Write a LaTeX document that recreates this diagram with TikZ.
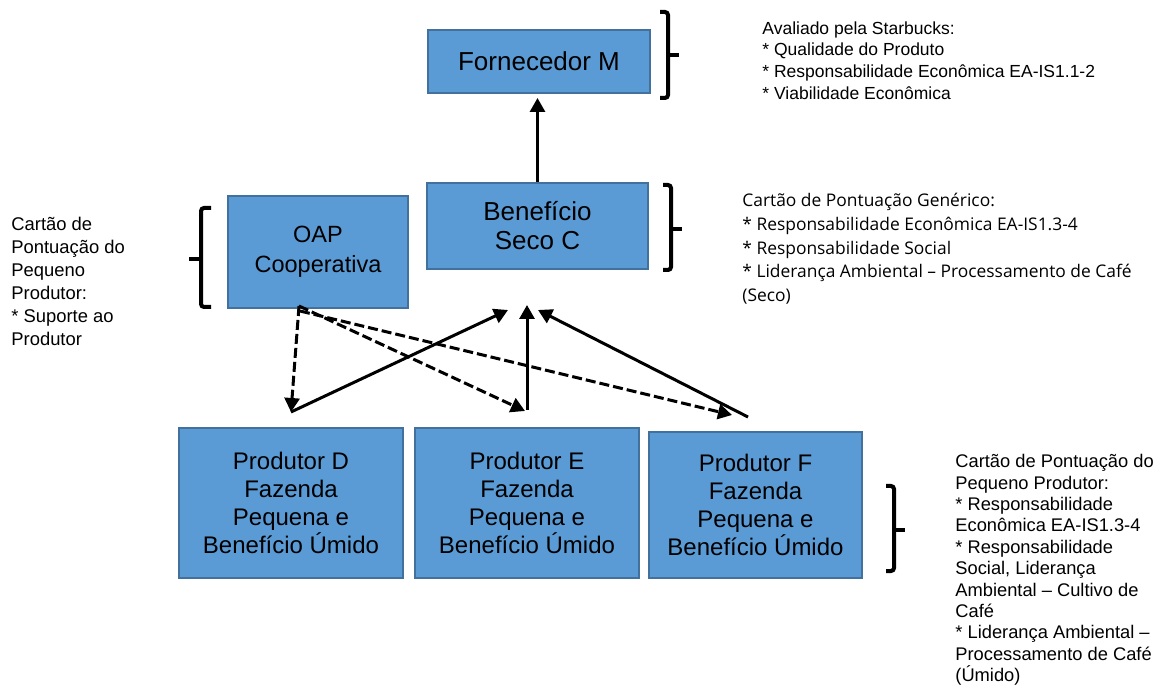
\documentclass[tikz,border=0pt]{standalone}
\usepackage{fontspec}
\setmainfont{Liberation Sans}
\newfontfamily\segoe{Open Sans}
\usetikzlibrary{arrows.meta}

\definecolor{boxfill}{RGB}{91,155,213}
\definecolor{boxline}{RGB}{65,113,156}

\begin{document}
\begin{tikzpicture}[x=0.5pt,y=-0.5pt,
    box/.style={rectangle, draw=boxline, fill=boxfill, line width=1pt, align=center, inner sep=0pt},
    note/.style={anchor=north west, align=left, inner sep=0pt},
    brace/.style={line width=2pt, rounded corners=1.5pt},
    flow/.style={line width=1.5pt, -{Triangle[length=7pt,width=7.5pt]}},
    help/.style={flow, dash pattern=on 5pt off 2pt}]
    \useasboundingbox (0,0) rectangle (1160,688);

    % boxes
    \node[box, minimum width=111pt, minimum height=31.5pt, font=\fontsize{13}{14.5}\selectfont]  (forn) at (539,61.5) {Fornecedor M};
    \node[box, minimum width=110.5pt, minimum height=43pt, font=\fontsize{13}{14.5}\selectfont] (seco) at (537.5,226) {Benefício\\Seco C};
    \node[box, minimum width=90pt, minimum height=56pt, font=\fontsize{11.75}{15}\selectfont]   (oap)  at (318,252) {OAP\\Cooperativa};
    \node[box, minimum width=112pt, minimum height=75pt, font=\fontsize{12}{13.9}\selectfont]  (prodD) at (291,503) {Produtor D\\Fazenda\\Pequena e\\Benefício Úmido};
    \node[box, minimum width=112pt, minimum height=75pt, font=\fontsize{12}{13.9}\selectfont]  (prodE) at (527,503) {Produtor E\\Fazenda\\Pequena e\\Benefício Úmido};
    \node[box, minimum width=106.5pt, minimum height=73pt, font=\fontsize{12}{13.9}\selectfont] (prodF) at (755.5,505) {Produtor F\\Fazenda\\Pequena e\\Benefício Úmido};

    % notes
    \node[note, font=\fontsize{8.75}{10.9}\selectfont] (starbucks) at (762,21)
        {Avaliado pela Starbucks:\\* Qualidade do Produto\\* Responsabilidade Econômica EA-IS1.1-2\\* Viabilidade Econômica};
    \node[note, font=\segoe\fontsize{8.7}{11.85}\selectfont] (generico) at (742,193)
        {Cartão de Pontuação Genérico:\\* Responsabilidade Econômica EA-IS1.3-4\\* Responsabilidade Social\\* Liderança Ambiental – Processamento de Café\\(Seco)};
    \node[note, font=\fontsize{9.2}{11.5}\selectfont] (suporte) at (11,217)
        {Cartão de\\Pontuação do\\Pequeno\\Produtor:\\* Suporte ao\\Produtor};
    \node[note, font=\fontsize{9.15}{10.7}\selectfont] (pequeno) at (955,454)
        {Cartão de Pontuação do\\Pequeno Produtor:\\* Responsabilidade\\Econômica EA-IS1.3-4\\* Responsabilidade\\Social, Liderança\\Ambiental – Cultivo de\\Café\\* Liderança Ambiental –\\Processamento de Café\\(Úmido)};

    % brackets
    \foreach \ya/\yb/\ym/\x in {12/98/55/668, 185/270/229/671, 486/571/530/894} {
        \draw[brace] (\x-8,\ya) -| (\x,\yb) -- (\x-8,\yb);
        \draw[brace] (\x,\ym) -- (\x+11,\ym);
    }
    \draw[brace] (211,208) -| (201,307) -- (211,307);
    \draw[brace] (201,259) -- (189,259);

    % arrow ends
    \coordinate (hub)  at (299,306);
    \coordinate (hubF) at (300,311);
    \coordinate (dTip) at (291,412);
    \coordinate (eTip) at (525,411);
    \coordinate (fTip) at (732,415);
    \coordinate (eFoot) at (527,410);
    \coordinate (fFoot) at (748,417);
    \coordinate (inD) at (508,310);
    \coordinate (inE) at (527,305);
    \coordinate (inF) at (538,310);

    \draw[flow] (seco.north) -- ([yshift=-2pt]seco.north |- forn.south);

    \draw[help] (hub) -- (dTip);
    \draw[help] (hub) -- (eTip);
    \draw[help] (hubF) -- (fTip);

    \draw[flow] (dTip) -- (inD);
    \draw[flow] (eFoot) -- (inE);
    \draw[flow] (fFoot) -- (inF);
\end{tikzpicture}
\end{document}
